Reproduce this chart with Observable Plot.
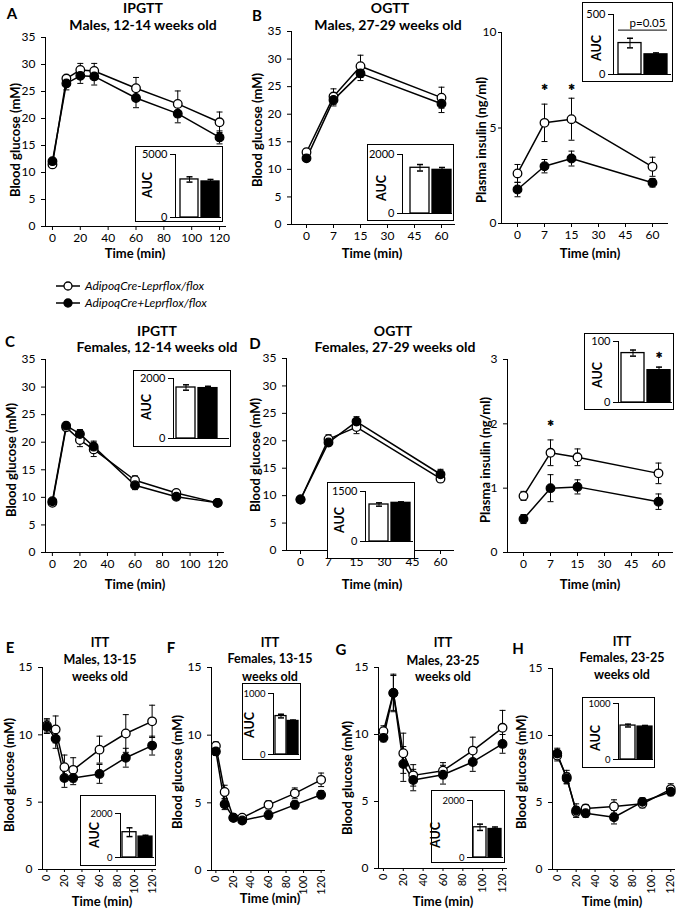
<!DOCTYPE html>
<html><head><meta charset="utf-8">
<script src="https://cdn.jsdelivr.net/npm/d3@7"></script>
<script src="https://cdn.jsdelivr.net/npm/@observablehq/plot@0.6"></script>
<style>
html,body{margin:0;padding:0;background:#fff;}
#fig{position:relative;width:676px;height:917px;overflow:hidden;background:#fff;font-family:Lato,"Open Sans",sans-serif;color:#000;}
#fig svg{position:absolute;overflow:visible;}
.lbl{position:absolute;white-space:nowrap;line-height:1;}
.box{position:absolute;border:1.5px solid #000;box-sizing:border-box;background:#fff;}
</style></head><body><div id="fig"></div>
<script>
// ---------------- data ----------------
const groups = ["AdipoqCre-Leprflox/flox", "AdipoqCre+Leprflox/flox"];
const timeGTT = [0, 10, 20, 30, 60, 90, 120];
const timeITT = [0, 10, 20, 30, 60, 90, 120];
const timeOGTT = ["0", "7", "15", "60"];
const ogttAxisCats = ["0", "7", "15", "30", "45", "60"];
const timeTicks = [0, 20, 40, 60, 80, 100, 120];
const glucoseTicks = [0, 5, 10, 15, 20, 25, 30, 35];
const ittTicks = [0, 5, 10, 15];
const insulinTicksB = [0, 5, 10];
const insulinTicksD = [0, 1, 2, 3];

// A: IPGTT males 12-14 wk
const aCtrl = [11.5, 27.4, 29.0, 28.8, 25.6, 22.7, 19.3];
const aCtrlErr = [0.4, 0.5, 1.2, 1.4, 2.0, 2.4, 1.9];
const aKO = [12.1, 26.5, 27.9, 27.8, 23.8, 20.9, 16.5];
const aKOErr = [0.4, 1.2, 1.4, 1.6, 1.8, 1.7, 1.2];
const aAUC = [3020, 2860], aAUCErr = [210, 160];
// B: OGTT males 27-29 wk
const bCtrl = [13.1, 23.2, 28.7, 23.0];
const bCtrlErr = [0.6, 1.4, 2.0, 1.9];
const bKO = [12.0, 22.6, 27.4, 21.9];
const bKOErr = [0.5, 1.1, 1.3, 1.6];
const bAUC = [1550, 1480], bAUCErr = [110, 80];
// B: insulin
const biCtrl = [2.62, 5.27, 5.46, 2.97];
const biCtrlErr = [0.47, 0.98, 1.1, 0.5];
const biKO = [1.78, 3.0, 3.4, 2.13];
const biKOErr = [0.38, 0.35, 0.39, 0.22];
const biAUC = [262, 168], biAUCErr = [40, 12];
const biStars = ["7", "15"];
// C: IPGTT females 12-14 wk
const cCtrl = [9.0, 22.7, 20.4, 18.7, 13.1, 10.8, 9.0];
const cCtrlErr = [0.3, 0.6, 1.2, 1.3, 0.8, 0.4, 0.3];
const cKO = [9.3, 23.0, 21.5, 19.2, 12.2, 10.1, 9.0];
const cKOErr = [0.3, 0.6, 0.8, 1.0, 0.8, 0.4, 0.3];
const cAUC = [1700, 1680], cAUCErr = [90, 60];
// D: OGTT females 27-29 wk
const dCtrl = [9.3, 20.3, 22.5, 13.1];
const dCtrlErr = [0.3, 0.8, 1.2, 0.6];
const dKO = [9.3, 19.7, 23.5, 13.9];
const dKOErr = [0.3, 0.6, 0.9, 0.9];
const dAUC = [1110, 1160], dAUCErr = [50, 30];
// D: insulin
const diCtrl = [0.88, 1.55, 1.48, 1.23];
const diCtrlErr = [0.07, 0.2, 0.13, 0.16];
const diKO = [0.52, 1.0, 1.02, 0.79];
const diKOErr = [0.07, 0.21, 0.11, 0.12];
const diAUC = [81, 53], diAUCErr = [5, 5];
const diStars = ["7"];
// E-H: ITT
const eCtrl = [10.7, 10.4, 7.6, 7.4, 8.9, 10.1, 11.0];
const eCtrlErr = [0.5, 1.0, 0.9, 0.9, 1.0, 1.4, 1.2];
const eKO = [10.6, 9.7, 6.8, 6.8, 7.1, 8.3, 9.2];
const eKOErr = [0.5, 0.7, 0.7, 0.5, 0.7, 0.7, 0.7];
const eAUC = [1150, 950], eAUCErr = [200, 60];
const fCtrl = [9.2, 5.8, 3.9, 3.9, 4.85, 5.7, 6.7];
const fCtrlErr = [0.3, 0.5, 0.2, 0.2, 0.3, 0.4, 0.5];
const fKO = [8.8, 4.9, 3.9, 3.7, 4.1, 4.85, 5.6];
const fKOErr = [0.3, 0.4, 0.2, 0.2, 0.3, 0.3, 0.3];
const fAUC = [630, 550], fAUCErr = [30, 15];
const gCtrl = [10.25, 13.1, 8.6, 6.95, 7.3, 8.8, 10.5];
const gCtrlErr = [0.4, 1.4, 1.5, 0.8, 0.6, 1.0, 1.3];
const gKO = [9.75, 13.1, 7.8, 6.6, 7.0, 7.95, 9.3];
const gKOErr = [0.3, 1.3, 1.3, 0.8, 0.7, 0.7, 0.7];
const gAUC = [1060, 1000], gAUCErr = [110, 70];
const hCtrl = [8.5, 6.9, 4.3, 4.55, 4.7, 4.9, 6.0];
const hCtrlErr = [0.4, 0.5, 0.4, 0.3, 0.5, 0.3, 0.4];
const hKO = [8.65, 6.8, 4.4, 4.2, 3.9, 5.05, 5.8];
const hKOErr = [0.4, 0.4, 0.5, 0.3, 0.5, 0.3, 0.3];
const hAUC = [606, 588], hAUCErr = [25, 20];

// ---------------- helpers ----------------
const FONT = "Lato, 'Open Sans', sans-serif";
const fig = document.getElementById("fig");
const cap = {draw(ctx, size) { const r = Math.sqrt(size / Math.PI); ctx.moveTo(-r, 0); ctx.lineTo(r, 0); }};
const fmt = d => String(d);

function place(svg, left, top) {
  svg.style.position = "absolute";
  svg.style.left = left + "px";
  svg.style.top = top + "px";
  svg.style.maxWidth = "none";
  fig.appendChild(svg);
}

function label(txt, x, y, o = {}) {
  const d = document.createElement("div");
  d.className = "lbl";
  d.textContent = txt;
  d.style.left = x + "px";
  d.style.top = y + "px";
  d.style.fontSize = (o.size ?? 13) + "px";
  d.style.fontWeight = o.weight ?? "bold";
  if (o.italic) d.style.fontStyle = "italic";
  const tx = o.anchor === "start" ? "0" : o.anchor === "end" ? "-100%" : "-50%";
  d.style.transform = `translate(${tx},-50%)` + (o.rotate ? " rotate(-90deg)" : "");
  fig.appendChild(d);
}

function mainPanel(p) {
  const mL = 40, mT = 12, mR = 6, mB = p.rotate ? 34 : 26;
  const left = p.axisX - mL, top = p.yTopPx - mT;
  const width = mL + (p.xEnd - p.axisX) + mR;
  const height = mT + (p.y0Px - p.yTopPx) + mB;
  const rows = p.series.map(s => s.y.map((v, i) => ({t: p.x[i], v, e: s.e[i]})));
  const xOpt = p.cats ? {type: "point", domain: p.cats, padding: 0.5} : {type: "linear", domain: [-5, 125]};
  const marks = [
    Plot.frame({anchor: "left", stroke: "#000", strokeWidth: 1}),
    Plot.ruleY([0], {stroke: "#000", strokeWidth: 1}),
    Plot.axisY({ticks: p.yTicks, tickFormat: fmt, tickSize: p.tickSizeY ?? 4, tickPadding: p.tickPadY ?? 6, label: null}),
    p.cats
      ? Plot.axisX({tickSize: 4, tickPadding: 3, label: null})
      : p.rotate
        ? Plot.axisX({ticks: timeTicks, tickFormat: fmt, tickSize: 3, tickPadding: 2, label: null, tickRotate: -90, fontSize: 11})
        : Plot.axisX({ticks: timeTicks, tickFormat: fmt, tickSize: 4, tickPadding: 3, label: null})
  ];
  for (const r of rows) {
    marks.push(Plot.ruleX(r, {x: "t", y1: d => d.v - d.e, y2: d => d.v + d.e, stroke: "#000", strokeWidth: 1}));
    marks.push(Plot.dot(r, {x: "t", y: d => d.v + d.e, symbol: cap, r: 3, stroke: "#000", fill: "none", strokeWidth: 1}));
    marks.push(Plot.dot(r, {x: "t", y: d => d.v - d.e, symbol: cap, r: 3, stroke: "#000", fill: "none", strokeWidth: 1}));
  }
  for (const r of rows) marks.push(Plot.line(r, {x: "t", y: "v", stroke: "#000", strokeWidth: 1.5}));
  marks.push(Plot.dot(rows[0], {x: "t", y: "v", r: 4.3, fill: "#fff", stroke: "#000", strokeWidth: 1.3}));
  marks.push(Plot.dot(rows[1], {x: "t", y: "v", r: 4.3, fill: "#000", stroke: "#000", strokeWidth: 1.3}));
  if (p.stars) marks.push(Plot.text(p.stars, {x: d => d, y: () => p.starY, text: () => "*", fill: "#000", stroke: "#000", strokeWidth: 0.6, fontSize: 17}));
  const svg = Plot.plot({
    width, height, marginLeft: mL, marginRight: mR, marginTop: mT, marginBottom: mB,
    style: {fontFamily: FONT, fontSize: "12px", background: "transparent", color: "#000", overflow: "visible"},
    x: {...xOpt, label: null},
    y: {domain: [0, p.yTicks[p.yTicks.length - 1]], label: null},
    marks
  });
  place(svg, left, top);
}

function inset(p) {
  const [l, t, r, b] = p.box;
  const W = r - l, H = b - t;
  const box = document.createElement("div");
  box.className = "box";
  Object.assign(box.style, {left: l + "px", top: t + "px", width: W + "px", height: H + "px"});
  fig.appendChild(box);
  const rows = groups.map((g, i) => ({g, v: p.v[i], e: p.e[i]}));
  const marks = [
    Plot.barY([rows[0]], {x: "g", y: "v", fill: "#fff", stroke: "#000", strokeWidth: 1.3}),
    Plot.barY([rows[1]], {x: "g", y: "v", fill: "#000", stroke: "#000", strokeWidth: 1.3}),
    Plot.ruleX(rows, {x: "g", y1: d => d.v - d.e, y2: d => d.v + d.e, stroke: "#000", strokeWidth: 1}),
    Plot.dot(rows, {x: "g", y: d => d.v + d.e, symbol: cap, r: 3, stroke: "#000", fill: "none"}),
    Plot.dot([rows[0]], {x: "g", y: d => d.v - d.e, symbol: cap, r: 3, stroke: "#000", fill: "none"}),
    Plot.frame({anchor: "left", stroke: "#000"}),
    Plot.ruleY([0], {stroke: "#000"}),
    Plot.axisY({ticks: [0, p.max], tickFormat: fmt, tickSize: 5, tickPadding: 3, label: null})
  ];
  if (p.pText) {
    marks.push(Plot.ruleY([p.pLineY], {x1: () => groups[0], x2: () => groups[1], stroke: "#000", strokeWidth: 1}));
    marks.push(Plot.text([p.pText], {y: () => p.pTextY, text: d => d, dx: 5, fill: "#000", fontSize: 11.5}));
  }
  if (p.starY !== undefined) marks.push(Plot.text([groups[1]], {x: d => d, y: () => p.starY, text: () => "*", fill: "#000", stroke: "#000", strokeWidth: 0.6, fontSize: 17}));
  const svg = Plot.plot({
    width: W, height: H,
    marginLeft: p.axisX - l, marginRight: 2, marginTop: p.yMaxPx - t, marginBottom: b - p.y0Px,
    style: {fontFamily: FONT, fontSize: (p.fs ?? 11) + "px", background: "transparent", color: "#000", overflow: "visible"},
    x: {type: "band", domain: groups, range: [p.bars[0] - l, p.bars[1] - l], paddingInner: 0.12, paddingOuter: 0, axis: null},
    y: {domain: [0, p.max], label: null},
    marks
  });
  place(svg, l, t);
  label("AUC", p.auc[0], p.auc[1], {rotate: true, size: 12.5});
}

// ---------------- panels ----------------
mainPanel({axisX: 45, xEnd: 226, yTopPx: 37, y0Px: 226, x: timeGTT, yTicks: glucoseTicks,
  series: [{y: aCtrl, e: aCtrlErr}, {y: aKO, e: aKOErr}]});
mainPanel({axisX: 291, xEnd: 455, yTopPx: 31, y0Px: 224, x: timeOGTT, cats: ogttAxisCats, yTicks: glucoseTicks,
  series: [{y: bCtrl, e: bCtrlErr}, {y: bKO, e: bKOErr}]});
mainPanel({axisX: 501, xEnd: 668, yTopPx: 32, y0Px: 223, x: timeOGTT, cats: ogttAxisCats, yTicks: insulinTicksB,
  tickSizeY: 3, tickPadY: 2,
  series: [{y: biCtrl, e: biCtrlErr}, {y: biKO, e: biKOErr}], stars: biStars, starY: 6.9});
mainPanel({axisX: 45, xEnd: 224, yTopPx: 359, y0Px: 552, x: timeGTT, yTicks: glucoseTicks,
  series: [{y: cCtrl, e: cCtrlErr}, {y: cKO, e: cKOErr}]});
mainPanel({axisX: 286, xEnd: 454, yTopPx: 358, y0Px: 550, x: timeOGTT, cats: ogttAxisCats, yTicks: glucoseTicks,
  series: [{y: dCtrl, e: dCtrlErr}, {y: dKO, e: dKOErr}]});
mainPanel({axisX: 507, xEnd: 673, yTopPx: 359, y0Px: 552, x: timeOGTT, cats: ogttAxisCats, yTicks: insulinTicksD,
  series: [{y: diCtrl, e: diCtrlErr}, {y: diKO, e: diKOErr}], stars: diStars, starY: 1.95});
mainPanel({axisX: 42, xEnd: 156, yTopPx: 667, y0Px: 869, x: timeITT, yTicks: ittTicks, rotate: true,
  series: [{y: eCtrl, e: eCtrlErr}, {y: eKO, e: eKOErr}]});
mainPanel({axisX: 211, xEnd: 325, yTopPx: 667, y0Px: 870, x: timeITT, yTicks: ittTicks, rotate: true,
  series: [{y: fCtrl, e: fCtrlErr}, {y: fKO, e: fKOErr}]});
mainPanel({axisX: 378, xEnd: 507, yTopPx: 667, y0Px: 868, x: timeITT, yTicks: ittTicks, rotate: true,
  series: [{y: gCtrl, e: gCtrlErr}, {y: gKO, e: gKOErr}]});
mainPanel({axisX: 552, xEnd: 675, yTopPx: 668, y0Px: 869, x: timeITT, yTicks: ittTicks, rotate: true,
  series: [{y: hCtrl, e: hCtrlErr}, {y: hKO, e: hKOErr}]});

// insets
inset({box: [135, 146, 223, 222], axisX: 175, yMaxPx: 154, y0Px: 217, max: 5000, bars: [180, 220], v: aAUC, e: aAUCErr, auc: [148, 185]});
inset({box: [367, 144, 454, 221], axisX: 402, yMaxPx: 154, y0Px: 213, max: 2000, bars: [409, 452], v: bAUC, e: bAUCErr, auc: [382, 188]});
inset({box: [582, 2, 673, 82], axisX: 613, yMaxPx: 14, y0Px: 74, max: 500, bars: [618, 667], v: biAUC, e: biAUCErr, auc: [597, 48],
  pText: "p=0.05", pTextY: 425, pLineY: 370});
inset({box: [133, 370, 231, 447], axisX: 173, yMaxPx: 378, y0Px: 438, max: 2000, bars: [176, 218], v: cAUC, e: cAUCErr, auc: [147, 407]});
inset({box: [327, 482, 415, 559], axisX: 365, yMaxPx: 491, y0Px: 541, max: 1500, bars: [369, 411], v: dAUC, e: dAUCErr, auc: [340, 520]});
inset({box: [584, 333, 674, 410], axisX: 618, yMaxPx: 341, y0Px: 402, max: 100, bars: [621, 670], v: diAUC, e: diAUCErr, auc: [598, 375], starY: 70});
inset({box: [80, 795, 156, 866], axisX: 120, yMaxPx: 813, y0Px: 857, max: 2000, bars: [122, 153], v: eAUC, e: eAUCErr, auc: [95, 835], fs: 9.5});
inset({box: [242, 683, 301, 760], axisX: 273, yMaxPx: 693, y0Px: 754, max: 1000, bars: [275, 298], v: fAUC, e: fAUCErr, auc: [250, 725], fs: 9.5});
inset({box: [431, 790, 505, 863], axisX: 472, yMaxPx: 800, y0Px: 857, max: 2000, bars: [473, 502], v: gAUC, e: gAUCErr, auc: [436, 835], fs: 9.5});
inset({box: [582, 697, 655, 768], axisX: 618, yMaxPx: 703, y0Px: 759, max: 1000, bars: [620, 652], v: hAUC, e: hAUCErr, auc: [596, 738], fs: 9.5});

// titles & panel letters
const T = 14, T2 = 12.5, L = 15;
label("A", 12, 13, {size: L}); label("IPGTT", 143, 8, {size: T}); label("Males, 12-14 weeks old", 143, 25, {size: T});
label("B", 257, 15, {size: L}); label("OGTT", 390, 8, {size: T}); label("Males, 27-29 weeks old", 388, 25, {size: T});
label("C", 10, 341, {size: L}); label("IPGTT", 157, 331, {size: T}); label("Females, 12-14 weeks old", 157, 347, {size: T});
label("D", 255, 343, {size: L}); label("OGTT", 393, 331, {size: T}); label("Females, 27-29 weeks old", 395, 347, {size: T});
label("E", 10, 647, {size: L}); label("ITT", 100, 643, {size: T2}); label("Males, 13-15", 100, 660, {size: T2}); label("weeks old", 100, 677, {size: T2});
label("F", 171, 647, {size: L}); label("ITT", 270, 643, {size: T2}); label("Females, 13-15", 270, 659, {size: T2}); label("weeks old", 270, 677, {size: T2});
label("G", 341, 649, {size: L}); label("ITT", 443, 643, {size: T2}); label("Males, 23-25", 443, 661, {size: T2}); label("weeks old", 443, 677, {size: T2});
label("H", 518, 648, {size: L}); label("ITT", 622, 642, {size: T2}); label("Females, 23-25", 622, 658, {size: T2}); label("weeks old", 622, 675, {size: T2});

// axis titles
const A = 13;
[[135, 253], [372, 253], [590, 253], [135, 584], [372, 584], [590, 584], [102, 901], [270, 898], [443, 901], [612, 901]]
  .forEach(([x, y]) => label("Time (min)", x, y, {size: A}));
[[15, 140], [257, 130], [11, 460], [255, 455], [9, 775], [177, 772], [347, 778], [521, 772]]
  .forEach(([x, y]) => label("Blood glucose (mM)", x, y, {size: A, rotate: true}));
[[481, 140], [485, 460]].forEach(([x, y]) => label("Plasma insulin (ng/ml)", x, y, {size: A, rotate: true}));

// legend
function legendRow(y, fill, text) {
  const s = d3.create("svg").attr("width", 26).attr("height", 12);
  s.append("line").attr("x1", 1).attr("x2", 25).attr("y1", 6).attr("y2", 6).attr("stroke", "#000").attr("stroke-width", 1.5);
  s.append("circle").attr("cx", 13).attr("cy", 6).attr("r", 4).attr("fill", fill).attr("stroke", "#000").attr("stroke-width", 1.3);
  place(s.node(), 55, y - 6);
  label(text, 85, y, {size: 12, weight: "normal", italic: true, anchor: "start"});
}
legendRow(286, "#fff", groups[0]);
legendRow(303, "#000", groups[1]);
</script></body></html>
